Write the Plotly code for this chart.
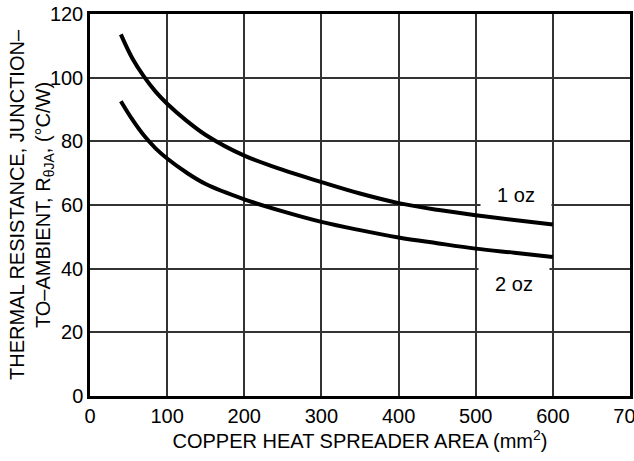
import plotly.graph_objects as go

area_mm2 = [40, 55, 70, 85, 100, 125, 150, 200, 250, 300, 350, 400, 450, 500, 550, 600]
rtheta_1oz = [113.6, 106, 100.3, 95.6, 91.8, 86.5, 82, 75.5, 71, 67.2, 63.6, 60.6, 58.5, 56.8, 55.3, 53.9]
rtheta_2oz = [92.6, 86.8, 81.8, 77.8, 74.6, 70.2, 66.6, 61.8, 58, 54.7, 52.1, 49.8, 48, 46.3, 45, 43.7]

x_ticks = [0, 100, 200, 300, 400, 500, 600, 700]
y_ticks = [0, 20, 40, 60, 80, 100, 120]

label_names = ["1 oz", "2 oz"]
label_x = [552, 550]
label_y = [63, 35.3]

FONT = "Arial, Liberation Sans, Helvetica, sans-serif"

fig = go.Figure()
fig.add_trace(go.Scatter(x=area_mm2, y=rtheta_1oz, mode="lines",
                         line=dict(color="black", width=4, shape="spline"),
                         name="1 oz", showlegend=False, hoverinfo="skip"))
fig.add_trace(go.Scatter(x=area_mm2, y=rtheta_2oz, mode="lines",
                         line=dict(color="black", width=4, shape="spline"),
                         name="2 oz", showlegend=False, hoverinfo="skip"))

annotations = []
for name, lx, ly in zip(label_names, label_x, label_y):
    annotations.append(dict(
        x=lx, y=ly, xref="x", yref="y",
        text="\u00a0\u00a0" + name + "\u00a0\u00a0",
        showarrow=False, bgcolor="white", borderpad=5,
        font=dict(family=FONT, size=20, color="black"),
        xanchor="center", yanchor="middle"))

annotations.append(dict(
    x=0, y=0.5, xref="paper", yref="paper",
    text="THERMAL RESISTANCE, JUNCTION\u2013<br>TO\u2013AMBIENT, R<sub>\u03b8JA</sub>, (\u00b0C/W)",
    showarrow=False, textangle=-90, align="center",
    xanchor="center", yanchor="middle", xshift=-59,
    font=dict(family=FONT, size=20, color="black")))

fig.update_layout(
    width=634, height=461,
    margin=dict(l=90, r=4, t=14, b=65, autoexpand=False),
    paper_bgcolor="white", plot_bgcolor="white",
    font=dict(family=FONT, size=20, color="black"),
    annotations=annotations,
    xaxis=dict(
        range=[0, 700], tickvals=x_ticks, ticktext=[str(v) for v in x_ticks],
        showgrid=True, gridcolor="#333333", gridwidth=1.5,
        showline=True, linecolor="black", linewidth=2.5, mirror=True,
        zeroline=False, ticks="", ticklabeloverflow="allow", automargin=False,
        tickfont=dict(family=FONT, size=20, color="black"),
        title=dict(text="COPPER HEAT SPREADER AREA (mm<sup>2</sup>)",
                   font=dict(family=FONT, size=20, color="black"), standoff=8),
    ),
    yaxis=dict(
        range=[0, 120], tickvals=y_ticks, ticktext=[str(v) for v in y_ticks],
        showgrid=True, gridcolor="#333333", gridwidth=1.5,
        showline=True, linecolor="black", linewidth=2.5, mirror=True,
        zeroline=False, ticks="", automargin=False,
        tickfont=dict(family=FONT, size=20, color="black"),
    ),
)

fig.write_html("out.html",
               config={"displayModeBar": False},
               post_script="document.body.style.margin='0';document.body.style.overflow='hidden';")
